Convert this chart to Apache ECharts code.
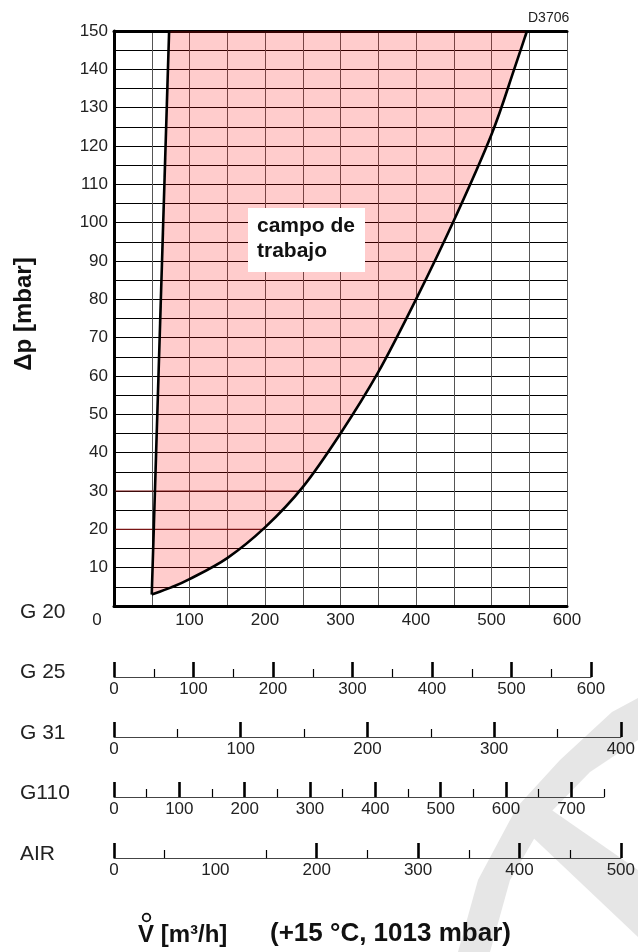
<!DOCTYPE html>
<html>
<head>
<meta charset="utf-8">
<script src="https://cdn.jsdelivr.net/npm/echarts@6/dist/echarts.min.js"></script>
<style>
html, body { margin: 0; background: #fff; }
#chart { width: 638px; height: 952px; }
</style>
</head>
<body>
<div id="chart"></div>
<script>
// working field (G 20): left limit line and right limit curve, dp [mbar] vs V [m3/h]
var leftX = [50, 73];
var leftY = [3, 150];
var curveX = [50, 75, 100, 150, 200, 250, 300, 350, 400, 450, 500, 530, 547];
var curveY = [3, 4.8, 7, 12.5, 20.5, 31, 45, 61, 80, 100.5, 123, 140, 150];

// dark red grid stretches
var redY = [20, 30];
var redEndX = [200, 245];

// G 20 main scale
var g20Max = 600;
var dpMax = 150;

// other gases
var scaleNames = ['G 25', 'G 31', 'G110', 'AIR'];
var g25Major = [0, 100, 200, 300, 400, 500, 600];
var g25Minor = [50, 150, 250, 350, 450, 550];
var g31Major = [0, 100, 200, 300, 400];
var g31Minor = [50, 150, 250, 350];
var g110Major = [0, 100, 200, 300, 400, 500, 600, 700];
var g110Minor = [50, 150, 250, 350, 450, 550, 650, 750];
var airMajor = [0, 200, 300, 400, 500];
var airMinor = [50, 150, 250, 350, 450];
var airLabels = [0, 100, 200, 300, 400, 500];
var scaleMax = [600, 400, 750, 500];

var scales = [
  { major: g25Major, minor: g25Minor, labels: g25Major, max: scaleMax[0] },
  { major: g31Major, minor: g31Minor, labels: g31Major, max: scaleMax[1] },
  { major: g110Major, minor: g110Minor, labels: g110Major, max: scaleMax[2] },
  { major: airMajor, minor: airMinor, labels: airLabels, max: scaleMax[3] }
];
// pixel layout of the scales
var lineTop = [677, 737, 797, 858];
var lineLen = [477, 509, 490, 507];

var tickFont = "'Liberation Sans', Arial, sans-serif";
var bold = "'Liberation Sans', Arial, sans-serif";

var chart = echarts.init(document.getElementById('chart'));

var grids = [{ left: 114, top: 31, width: 453, height: 575 }];
var xAxes = [
  {
    gridIndex: 0, type: 'value', position: 'bottom', min: 0, max: g20Max, interval: 50,
    axisLine: { lineStyle: { color: '#000', width: 3 } },
    axisTick: { show: false },
    axisLabel: {
      margin: 6, color: '#222', fontFamily: tickFont, fontSize: 17,
      formatter: function (v) {
        if (v % 100 !== 0) return '';
        return v === 0 ? '{z|0}' : String(v);
      },
      rich: { z: { fontFamily: tickFont, fontSize: 17, color: '#222', padding: [0, 34, 0, 0] } }
    },
    splitLine: { show: true, lineStyle: { color: '#555', width: 1 } }
  },
  {
    gridIndex: 0, type: 'value', position: 'top', min: 0, max: g20Max,
    axisLine: { lineStyle: { color: '#000', width: 3 } },
    axisTick: { show: false }, axisLabel: { show: false }, splitLine: { show: false }
  }
];
var yAxes = [
  {
    gridIndex: 0, type: 'value', min: 0, max: dpMax, interval: 5,
    axisLine: { show: true, lineStyle: { color: '#000', width: 3 } },
    axisTick: { show: false },
    axisLabel: {
      margin: 6, color: '#222', fontFamily: tickFont, fontSize: 17,
      formatter: function (v) { return (v === 0 || v % 10 !== 0) ? '' : String(v); }
    },
    splitLine: { show: true, lineStyle: { color: '#000', width: 1 } }
  }
];

scales.forEach(function (s, i) {
  grids.push({ left: 114, top: lineTop[i] - 10, width: lineLen[i], height: 10 });
  xAxes.push({
    gridIndex: i + 1, type: 'value', position: 'bottom', min: 0, max: s.max,
    axisLine: { lineStyle: { color: '#444', width: 1.2 } },
    axisTick: { show: true, inside: true, length: 15, customValues: s.major, lineStyle: { color: '#000', width: 2.6 } },
    axisLabel: { customValues: s.labels, margin: 4, color: '#222', fontFamily: tickFont, fontSize: 17 },
    splitLine: { show: false }
  });
  xAxes.push({
    gridIndex: i + 1, type: 'value', position: 'bottom', min: 0, max: s.max,
    axisLine: { show: false },
    axisTick: { show: true, inside: true, length: 8, customValues: s.minor, lineStyle: { color: '#000', width: 1.2 } },
    axisLabel: { show: false },
    splitLine: { show: false }
  });
  yAxes.push({ gridIndex: i + 1, type: 'value', show: false, min: 0, max: 1 });
});

// Catmull-Rom through the read points -> cubic bezier path segments
function bezierPath(P) {
  var d = '';
  for (var i = 0; i < P.length - 1; i++) {
    var p0 = P[i - 1] || P[i], p1 = P[i], p2 = P[i + 1], p3 = P[i + 2] || P[i + 1];
    var c1x = p1[0] + (p2[0] - p0[0]) / 6, c1y = p1[1] + (p2[1] - p0[1]) / 6;
    var c2x = p2[0] - (p3[0] - p1[0]) / 6, c2y = p2[1] - (p3[1] - p1[1]) / 6;
    d += ' C' + c1x + ' ' + c1y + ' ' + c2x + ' ' + c2y + ' ' + p2[0] + ' ' + p2[1];
  }
  return d;
}

function renderField(params, api) {
  var L = leftX.map(function (x, i) { return api.coord([x, leftY[i]]); });
  var C = curveX.map(function (x, i) { return api.coord([x, curveY[i]]); });
  var R = C.slice().reverse();
  var fill = 'M' + L[0][0] + ' ' + L[0][1] + ' L' + L[1][0] + ' ' + L[1][1] +
    ' L' + R[0][0] + ' ' + R[0][1] + bezierPath(R) + ' Z';
  var curve = 'M' + C[0][0] + ' ' + C[0][1] + bezierPath(C);
  var children = [
    { type: 'path', shape: { pathData: fill }, style: { fill: 'rgba(255,0,0,0.2)', stroke: null } }
  ];
  redY.forEach(function (y, i) {
    var a = api.coord([0, y]), b = api.coord([redEndX[i], y]);
    children.push({ type: 'line', shape: { x1: a[0] + 1.5, y1: a[1], x2: b[0], y2: b[1] }, style: { stroke: '#7a1414', lineWidth: 1.2 } });
  });
  children.push({ type: 'path', shape: { pathData: curve }, style: { fill: null, stroke: '#000', lineWidth: 2.6 } });
  children.push({ type: 'line', shape: { x1: L[0][0], y1: L[0][1], x2: L[1][0], y2: L[1][1] }, style: { stroke: '#000', lineWidth: 2.6 } });
  return { type: 'group', children: children };
}

var nameFont = "21px " + tickFont;

var option = {
  animation: false,
  backgroundColor: '#fff',
  grid: grids,
  xAxis: xAxes,
  yAxis: yAxes,
  series: [
    { type: 'custom', xAxisIndex: 0, yAxisIndex: 0, data: [0], renderItem: renderField, z: 3, silent: true }
  ],
  graphic: [
    // light grey watermark
    { type: 'polygon', z: -10, shape: { points: [[612, 712], [638, 698], [638, 740], [590, 772], [548, 815], [510, 880], [490, 952], [458, 952], [478, 880], [517, 807], [560, 760]] }, style: { fill: '#e6e6e6' } },
    { type: 'polygon', z: -10, shape: { points: [[530, 795], [638, 870], [638, 937], [525, 830]] }, style: { fill: '#e6e6e6' } },
    { type: 'text', left: 528, top: 11, style: { text: 'D3706', font: "14px 'Liberation Sans', Arial, sans-serif", fill: '#222' } },
    { type: 'text', x: 24, y: 314, rotation: Math.PI / 2, style: { text: 'Δp [mbar]', font: "bold 24px " + bold, fill: '#111', align: 'center', verticalAlign: 'middle' } },
    { type: 'text', x: 20, y: 612, style: { text: 'G 20', font: nameFont, fill: '#222', verticalAlign: 'middle' } },
    { type: 'text', x: 20, y: 672, style: { text: scaleNames[0], font: nameFont, fill: '#222', verticalAlign: 'middle' } },
    { type: 'text', x: 20, y: 733, style: { text: scaleNames[1], font: nameFont, fill: '#222', verticalAlign: 'middle' } },
    { type: 'text', x: 20, y: 793, style: { text: scaleNames[2], font: nameFont, fill: '#222', verticalAlign: 'middle' } },
    { type: 'text', x: 20, y: 854, style: { text: scaleNames[3], font: nameFont, fill: '#222', verticalAlign: 'middle' } },
    { type: 'rect', z: 10, shape: { x: 248, y: 208, width: 117, height: 64 }, style: { fill: '#fff' } },
    { type: 'text', z: 11, x: 257, y: 214, style: { text: 'campo de\ntrabajo', font: "bold 21px " + bold, lineHeight: 25, fill: '#111' } },
    { type: 'circle', shape: { cx: 146.5, cy: 917.5, r: 3.8 }, style: { fill: null, stroke: '#111', lineWidth: 1.8 } },
    { type: 'text', x: 138, y: 935, style: { text: 'V [m³/h]', font: "bold 24px " + bold, fill: '#111', verticalAlign: 'middle' } },
    { type: 'text', x: 270, y: 934, style: { text: '(+15 °C, 1013 mbar)', font: "bold 26px " + bold, fill: '#111', verticalAlign: 'middle' } }
  ]
};

chart.setOption(option);
</script>
</body>
</html>
